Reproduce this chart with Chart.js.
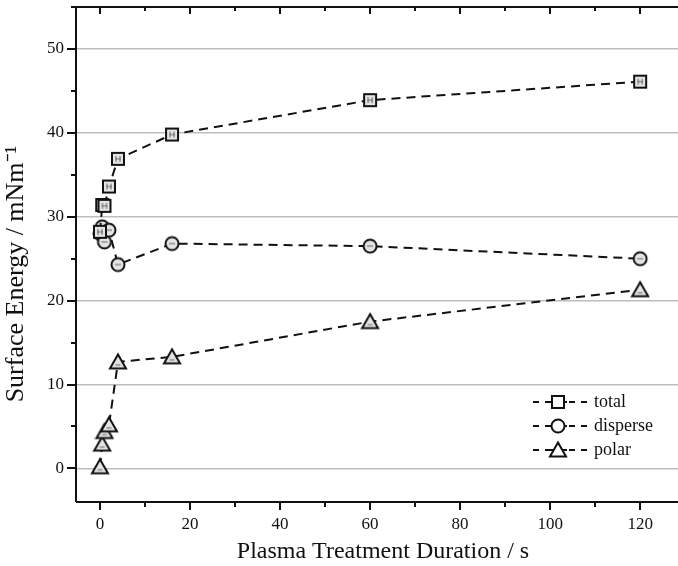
<!DOCTYPE html>
<html>
<head>
<meta charset="utf-8">
<script src="https://cdn.jsdelivr.net/npm/chart.js@4.4.1/dist/chart.umd.min.js"></script>
<style>
  html, body { margin: 0; padding: 0; background: #fff; }
  #wrap { width: 678px; height: 566px; position: relative; }
</style>
</head>
<body>
<div id="wrap"><canvas id="surfaceChart"></canvas></div>
<script>
// treatment durations (s) and surface energy components (mN/m)
const durations = [0, 0.5, 1, 2, 4, 16, 60, 120];
const totalEnergy = [28.2, 31.4, 31.3, 33.6, 36.9, 39.8, 43.9, 46.1];
const disperseEnergy = [28.0, 28.8, 27.0, 28.4, 24.3, 26.8, 26.5, 25.0];
const polarEnergy = [0.2, 2.9, 4.4, 5.2, 12.7, 13.3, 17.5, 21.3];
const seriesNames = ['total', 'disperse', 'polar'];
const xTickLabels = [0, 20, 40, 60, 80, 100, 120];
const yTickLabels = [0, 10, 20, 30, 40, 50];

const FONT = "'Liberation Serif', 'Times New Roman', serif";

// marker images
function makeMarker(shape, fill, inner) {
    const c = document.createElement('canvas');
    c.width = 20; c.height = 20;
    const g = c.getContext('2d');
    g.lineWidth = 2;
    g.strokeStyle = '#111';
    g.fillStyle = fill;
    g.beginPath();
    if (shape === 'square') {
        g.rect(4, 4, 12, 12);
    } else if (shape === 'circle') {
        g.arc(10, 10, 6.5, 0, Math.PI * 2);
    } else {
        g.moveTo(10, 2.5);
        g.lineTo(18, 16.5);
        g.lineTo(2, 16.5);
        g.closePath();
    }
    g.fill();
    g.stroke();
    if (inner) {
        g.lineWidth = 1;
        g.strokeStyle = '#666';
        g.beginPath();
        if (shape === 'triangle') {
            g.moveTo(7.5, 13); g.lineTo(12.5, 13);
        } else {
            g.moveTo(7, 10); g.lineTo(13, 10);
            if (shape === 'square') { g.moveTo(8, 7); g.lineTo(8, 13); g.moveTo(12, 7); g.lineTo(12, 13); }
        }
        g.stroke();
    }
    return c;
}

const shapes = ['square', 'circle', 'triangle'];
const markers = shapes.map(s => makeMarker(s, '#e4e4e4', true));
const legendMarkers = shapes.map(s => makeMarker(s, '#fff', false));

function pairs(ys) {
    return durations.map((x, i) => ({ x: x, y: ys[i] }));
}

const frame = {
    id: 'frame',
    afterDraw(chart) {
        const ctx = chart.ctx;
        const a = chart.chartArea;
        const xs = chart.scales.x, ys = chart.scales.y;
        ctx.save();
        ctx.strokeStyle = '#111';
        ctx.lineWidth = 2;
        ctx.beginPath();
        ctx.moveTo(a.left, a.top); ctx.lineTo(a.right + 2, a.top);
        ctx.moveTo(a.left, a.top); ctx.lineTo(a.left, a.bottom);
        ctx.moveTo(a.left, a.bottom); ctx.lineTo(a.right + 2, a.bottom);
        // x ticks: outward at bottom, inward at top
        for (let v = 0; v <= xs.max; v += 10) {
            const px = Math.round(xs.getPixelForValue(v));
            const len = v % 20 === 0 ? 8 : 5;
            ctx.moveTo(px, a.bottom); ctx.lineTo(px, a.bottom + len);
            ctx.moveTo(px, a.top); ctx.lineTo(px, a.top + len - 1);
        }
        // y ticks: outward at left
        for (let v = 0; v <= ys.max; v += 5) {
            const py = Math.round(ys.getPixelForValue(v));
            const len = v % 10 === 0 ? 9 : 5;
            ctx.moveTo(a.left, py); ctx.lineTo(a.left - len, py);
        }
        ctx.stroke();

        // legend
        const lx = 533, lyStart = 402, step = 24;
        chart.data.datasets.forEach((ds, i) => {
            const y = lyStart + i * step;
            ctx.setLineDash([6, 6]);
            ctx.lineWidth = 2;
            ctx.strokeStyle = '#111';
            ctx.beginPath();
            ctx.moveTo(lx, y); ctx.lineTo(lx + 56, y);
            ctx.stroke();
            ctx.setLineDash([]);
            ctx.beginPath();
            ctx.moveTo(lx + 16, y); ctx.lineTo(lx + 34, y);
            ctx.stroke();
            ctx.drawImage(legendMarkers[i], lx + 15, y - 10);
            ctx.fillStyle = '#111';
            ctx.font = '18px ' + FONT;
            ctx.textBaseline = 'middle';
            ctx.textAlign = 'left';
            ctx.fillText(ds.label, lx + 61, y);
        });
        ctx.restore();
    }
};

const lineStyle = {
    borderColor: '#111',
    borderWidth: 2,
    borderDash: [9, 6],
    showLine: true,
    fill: false,
    tension: 0,
    pointRadius: 8,
    pointHoverRadius: 8
};

new Chart(document.getElementById('surfaceChart'), {
    type: 'scatter',
    data: {
        datasets: [
            Object.assign({ label: seriesNames[0], data: pairs(totalEnergy), pointStyle: markers[0] }, lineStyle),
            Object.assign({ label: seriesNames[1], data: pairs(disperseEnergy), pointStyle: markers[1] }, lineStyle),
            Object.assign({ label: seriesNames[2], data: pairs(polarEnergy), pointStyle: markers[2] }, lineStyle)
        ]
    },
    options: {
        responsive: true,
        maintainAspectRatio: false,
        animation: false,
        layout: { autoPadding: false, padding: { top: 7, right: 0, left: 0, bottom: 0 } },
        plugins: {
            legend: { display: false },
            tooltip: { enabled: false }
        },
        scales: {
            x: {
                type: 'linear',
                min: -5.33,
                max: 128.4,
                afterBuildTicks: s => { s.ticks = xTickLabels.map(v => ({ value: v })); },
                afterFit: s => { s.height = 64; s.paddingLeft = 0; s.paddingRight = 0; },
                grid: { display: false, drawTicks: false },
                border: { display: false },
                ticks: {
                    padding: 12,
                    color: '#111',
                    font: { family: FONT, size: 17 }
                },
                title: {
                    display: true,
                    text: '  Plasma Treatment Duration / s',
                    color: '#111',
                    font: { family: FONT, size: 24 },
                    padding: { top: 0, bottom: 0 }
                }
            },
            y: {
                min: -4,
                max: 55,
                afterBuildTicks: s => { s.ticks = yTickLabels.map(v => ({ value: v })); },
                afterFit: s => { s.width = 76; s.paddingTop = 0; s.paddingBottom = 0; },
                grid: { color: '#bdbdbd', lineWidth: 1.5, drawTicks: false },
                border: { display: false },
                ticks: {
                    padding: 12,
                    color: '#111',
                    font: { family: FONT, size: 17 }
                },
                title: {
                    display: true,
                    text: 'Surface Energy / mNm\u207B\u00B9      ',
                    color: '#111',
                    font: { family: FONT, size: 26 },
                    padding: { top: 1, bottom: 0 }
                }
            }
        }
    },
    plugins: [frame]
});
</script>
</body>
</html>
